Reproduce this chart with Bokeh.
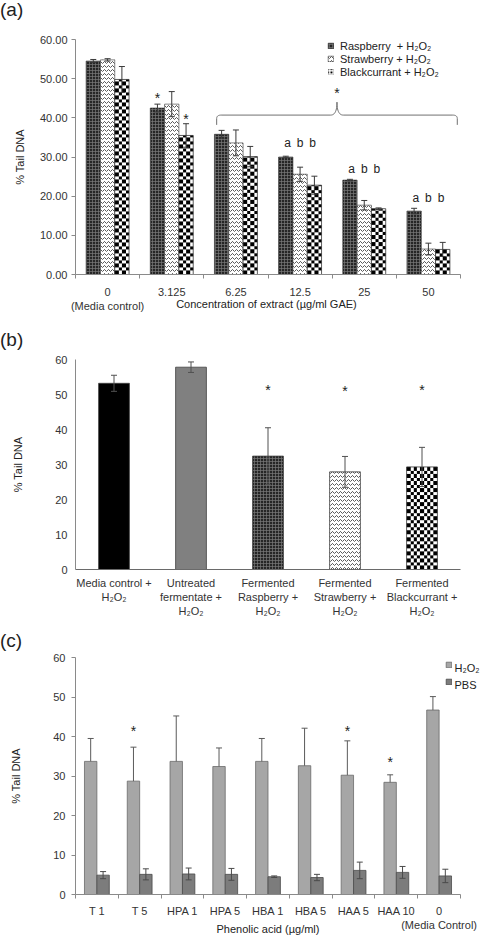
import numpy as np
from bokeh.plotting import figure
from bokeh.layouts import column
from bokeh.models import (Range1d, FixedTicker, NumeralTickFormatter, Whisker, TeeHead,
                          ColumnDataSource, Legend, LegendItem, Div, LinearAxis)
from bokeh.core.properties import value
from bokeh.embed import file_html
from bokeh.resources import INLINE

FONT = "Liberation Sans"
INK = "#222222"
AXIS = "#8a8a8a"
W = 486

# ---------------- (a) berry extracts over a concentration range ----------------
conc_labels = ["0\n(Media control)", "3.125", "6.25", "12.5", "25", "50"]
series_a = ["Raspberry  + H₂O₂", "Strawberry + H₂O₂", "Blackcurrant + H₂O₂"]
raspberry = [54.5, 42.5, 35.8, 30.0, 24.1, 16.2]
raspberry_sd = [0.4, 1.0, 1.0, 0.2, 0.2, 0.7]
strawberry = [54.8, 43.5, 33.6, 25.6, 17.7, 6.5]
strawberry_sd = [0.3, 3.2, 3.3, 1.8, 1.2, 1.5]
blackcurrant = [49.8, 35.5, 30.1, 22.8, 16.8, 6.4]
blackcurrant_sd = [3.3, 3.0, 2.6, 2.3, 0.2, 1.8]
# significance marks: (group, series, height)
stars_a = [(1, 0, 45.0), (1, 2, 39.6)]
letter_groups = [3, 4, 5]
letter_text = ["a", "b", "b"]
letter_height = [33.7, 27.0, 19.5]

# ---------------- (b) fermentates ----------------
ferm_labels = ["Media control +\nH₂O₂", "Untreated\nfermentate +\nH₂O₂",
               "Fermented\nRaspberry +\nH₂O₂", "Fermented\nStrawberry +\nH₂O₂",
               "Fermented\nBlackcurrant +\nH₂O₂"]
ferm_mean = [53.2, 57.8, 32.4, 27.9, 29.3]
ferm_sd = [2.3, 1.5, 8.1, 4.4, 5.6]
ferm_star_height = [None, None, 51.3, 51.0, 51.3]

# ---------------- (c) phenolic acids ----------------
acid_labels = ["T 1", "T 5", "HPA 1", "HPA 5", "HBA 1", "HBA 5", "HAA 5", "HAA 10",
               "0\n(Media Control)"]
treatments = ["H₂O₂", "PBS"]
h2o2_mean = [33.7, 28.7, 33.7, 32.4, 33.7, 32.6, 30.2, 28.4, 46.7]
h2o2_sd = [5.8, 8.6, 11.5, 4.7, 5.8, 9.5, 8.7, 1.9, 3.4]
pbs_mean = [4.9, 5.1, 5.2, 5.1, 4.5, 4.3, 6.1, 5.6, 4.7]
pbs_sd = [0.9, 1.4, 1.5, 1.5, 0.2, 0.8, 2.1, 1.5, 1.7]
acid_star_height = [None, 41.3, None, None, None, None, 41.3, 33.6, None]

# ---------------- fill styles ----------------
RASP = dict(fill_color="#262626", hatch_pattern="cross", hatch_color="#7a7a7a",
            hatch_scale=3, hatch_weight=0.7)
STRAW = dict(fill_color="#ffffff", hatch_pattern="horizontal_wave", hatch_color="#5a5a5a",
             hatch_scale=4, hatch_weight=1)
CHECK_KEY = dict(fill_color="#000000", hatch_pattern="cross", hatch_color="#ffffff",
                 hatch_scale=3.5, hatch_weight=1.5)


def checker_rgba(width_px, height_px, cell=3.5):
    """Black/white checkerboard bitmap sized to a bar in screen pixels."""
    nx = max(1, int(round(width_px)))
    ny = max(1, int(round(height_px)))
    cols, rows = np.meshgrid(np.arange(nx), np.arange(ny))
    on = ((np.floor(cols / cell) + np.floor(rows / cell)) % 2) == 0
    rgba = np.full((ny, nx, 4), 255, dtype=np.uint8)
    rgba[on, :3] = 0
    return rgba.view(np.uint32).reshape(ny, nx)


def checker_bars(p, xs, tops, width, px_x, px_y):
    """Checkerboard-filled bars: bitmap fill plus an outline bar on top."""
    xs = list(xs)
    tops = list(tops)
    for x, t in zip(xs, tops):
        p.image_rgba(image=[checker_rgba(width * px_x, t * px_y)],
                     x=[x - width / 2], y=[0], dw=[width], dh=[t])
    p.vbar(x=xs, top=tops, width=width, bottom=0, fill_color=None,
           line_color="#333333", line_width=0.8)
    # zero-height bar that only supplies the legend swatch
    return p.vbar(x=xs[:1], top=[0], bottom=[0], width=width, line_color="#333333",
                  line_width=0.6, line_alpha=0.0, **CHECK_KEY)


def tag_div(text, height, line_height):
    return Div(text=text, width=W, height=height,
               styles={"font-family": FONT, "font-size": "19px", "color": INK,
                       "line-height": f"{line_height}px", "margin": "0", "padding": "0",
                       "overflow": "visible"})


def make_panel(height, top, frame_h, left, right, n):
    p = figure(width=W, height=height, output_backend="svg", toolbar_location=None,
               x_range=Range1d(-0.5, n - 0.5), y_range=Range1d(0, 60),
               min_border_left=left, min_border_right=right,
               min_border_top=top, min_border_bottom=height - top - frame_h)
    p.outline_line_color = None
    p.grid.visible = False
    p.background_fill_color = "white"
    p.border_fill_color = "white"
    for ax in (p.xaxis[0], p.yaxis[0]):
        ax.axis_line_color = AXIS
        ax.major_label_text_font = FONT
        ax.major_label_text_font_size = "11px"
        ax.major_label_text_color = "#333333"
        ax.major_tick_line_color = AXIS
        ax.minor_tick_line_color = AXIS
        ax.axis_label_text_font = FONT
        ax.axis_label_text_font_size = "11px"
        ax.axis_label_text_font_style = "normal"
        ax.axis_label_text_color = INK
    p.yaxis.ticker = FixedTicker(ticks=[0, 10, 20, 30, 40, 50, 60])
    p.yaxis.major_tick_in = 0
    p.yaxis.major_tick_out = 4
    p.yaxis.major_label_standoff = 4
    p.yaxis.axis_label = "% Tail DNA"
    p.xaxis.major_tick_in = 0
    p.xaxis.major_tick_out = 0
    p.xaxis.minor_tick_in = 0
    p.xaxis.minor_tick_out = 4
    p.xaxis.major_label_standoff = 7
    return p


def whisker(p, xs, mean, sd, color, two_sided=True, size=6):
    src = ColumnDataSource(dict(x=list(xs),
                                upper=[m + s for m, s in zip(mean, sd)],
                                lower=[m - s if two_sided else m for m, s in zip(mean, sd)]))
    w = Whisker(source=src, base="x", upper="upper", lower="lower", level="overlay",
                line_color=color, line_width=1,
                upper_head=TeeHead(size=size, line_color=color, line_width=1),
                lower_head=TeeHead(size=size, line_color=color, line_width=1) if two_sided else None)
    p.add_layout(w)


def stars(p, xs, ys, size="14px"):
    p.text(x=xs, y=ys, text=["*"] * len(xs), text_font=value(FONT), text_font_size=size,
           text_color=INK, text_align="center", text_baseline="middle")


# ======================= panel (a) =======================
idx = np.arange(len(conc_labels))
A_FW, A_FH = 387, 235
pa = make_panel(296, 19, A_FH, 73, 26, len(idx))
pa.yaxis.formatter = NumeralTickFormatter(format="0.00")
pa.yaxis.axis_label_standoff = 11
pa.xaxis.ticker = FixedTicker(ticks=list(idx), minor_ticks=list(np.arange(-0.5, len(idx), 1.0)))
pa.xaxis.major_label_overrides = {int(i): t for i, t in zip(idx, conc_labels)}
pa.xaxis.axis_label = "Concentration of extract  (µg/ml GAE)"
pa.xaxis.axis_label_standoff = -17

bw = 0.223
offs = [-bw, 0.0, bw]
r_rasp = pa.vbar(x=idx + offs[0], top=raspberry, width=bw, bottom=0, line_color="#333333",
                 line_width=0.6, **RASP)
r_straw = pa.vbar(x=idx + offs[1], top=strawberry, width=bw, bottom=0, line_color="#333333",
                  line_width=0.6, **STRAW)
r_black = checker_bars(pa, idx + offs[2], blackcurrant, bw, A_FW / len(idx), A_FH / 60)
whisker(pa, idx + offs[0], raspberry, raspberry_sd, "#3a3a3a")
whisker(pa, idx + offs[1], strawberry, strawberry_sd, "#3a3a3a")
whisker(pa, idx + offs[2], blackcurrant, blackcurrant_sd, "#3a3a3a")

stars(pa, [g + offs[s] for g, s, h in stars_a], [h for g, s, h in stars_a])
lx, ly, lt = [], [], []
for g, h in zip(letter_groups, letter_height):
    for k, t in enumerate(letter_text):
        lx.append(g + offs[k] * 0.88)
        ly.append(h)
        lt.append(t)
pa.text(x=lx, y=ly, text=lt, text_font=value(FONT), text_font_size="12px", text_color=INK,
        text_align="center", text_baseline="middle")


# curly brace over the 6.25 - 50 groups
def qbez(p0, p1, p2, n=14):
    t = np.linspace(0, 1, n)[:, None]
    return (1 - t) ** 2 * np.array(p0) + 2 * (1 - t) * t * np.array(p1) + t ** 2 * np.array(p2)


x0, x1 = 1.70, 5.45
xm = (x0 + x1) / 2
yb, ye, yt = 40.7, 38.2, 44.0
dx, dy = 0.07, 0.9
half = np.vstack([
    [[x0, ye]],
    qbez((x0, yb - dy), (x0, yb), (x0 + dx, yb)),
    qbez((xm - dx * 1.4, yb), (xm, yb), (xm, yt)),
])
mirror = half[::-1].copy()
mirror[:, 0] = 2 * xm - mirror[:, 0]
brace = np.vstack([half, mirror])
pa.line(brace[:, 0], brace[:, 1], line_color="#707070", line_width=1)
stars(pa, [xm], [46.4])

leg_a = Legend(items=[LegendItem(label=s, renderers=[r])
                      for s, r in zip(series_a, [r_rasp, r_straw, r_black])],
               location=(252, 196), orientation="vertical", glyph_width=7, glyph_height=7,
               label_text_font=FONT, label_text_font_size="11px", label_text_color=INK,
               label_standoff=6, label_height=13, spacing=0, padding=0, margin=0,
               border_line_color=None, background_fill_alpha=0)
pa.add_layout(leg_a)

# ======================= panel (b) =======================
idx_b = np.arange(len(ferm_labels))
B_FW, B_FH = 407, 210
pb = make_panel(274, 5, B_FH, 73, 6, len(idx_b))
pb.xaxis.ticker = FixedTicker(ticks=list(idx_b))
pb.xaxis.major_label_overrides = {int(i): t for i, t in zip(idx_b, ferm_labels)}
pb.xaxis.minor_tick_out = 0
pb.yaxis.major_tick_out = 0
pb.yaxis.major_label_standoff = 8
pb.yaxis.axis_label_standoff = 28
pb.xaxis.axis_line_color = "#6a6a6a"

bw_b = 0.4
b_styles = [dict(fill_color="#000000"), dict(fill_color="#808080"), RASP, STRAW]
for i, st in enumerate(b_styles):
    pb.vbar(x=[idx_b[i]], top=[ferm_mean[i]], width=bw_b, bottom=0,
            line_color="#404040", line_width=0.8, **st)
checker_bars(pb, idx_b[4:], ferm_mean[4:], bw_b, B_FW / len(idx_b), B_FH / 60)
whisker(pb, idx_b, ferm_mean, ferm_sd, "#505050")
stars(pb, [i for i, h in zip(idx_b, ferm_star_height) if h is not None],
      [h for h in ferm_star_height if h is not None])

# ======================= panel (c) =======================
idx_c = np.arange(len(acid_labels))
C_FH = 245
pc = make_panel(285, 5, C_FH, 75, 21, len(idx_c))
pc.xaxis.ticker = FixedTicker(ticks=list(idx_c), minor_ticks=list(np.arange(-0.5, len(idx_c), 1.0)))
pc.xaxis.major_label_overrides = {int(i): t for i, t in zip(idx_c, acid_labels)}
pc.yaxis.major_label_standoff = 6
pc.yaxis.axis_label_standoff = 28
pc.xaxis.major_label_standoff = 6
pc.xaxis.axis_label = "Phenolic acid (µg/ml)"
pc.xaxis.axis_label_standoff = -11

bw_c = 0.29
xh = idx_c - bw_c / 2
xp = idx_c + bw_c / 2
rh = pc.vbar(x=xh, top=h2o2_mean, width=bw_c, bottom=0, fill_color="#a6a6a6",
             line_color="#6a6a6a", line_width=0.8)
rp = pc.vbar(x=xp, top=pbs_mean, width=bw_c, bottom=0, fill_color="#7c7c7c",
             line_color="#4a4a4a", line_width=0.8)
whisker(pc, xh, h2o2_mean, h2o2_sd, "#5a5a5a", two_sided=False)
whisker(pc, xp, pbs_mean, pbs_sd, "#4a4a4a")
stars(pc, [x for x, h in zip(xh, acid_star_height) if h is not None],
      [h for h in acid_star_height if h is not None])

# legend swatches sit inside the frame; their names run past its right edge,
# so they are written by a bare axis on the right that carries only those two labels
leg_c = Legend(items=[LegendItem(label=" ", renderers=[rh]), LegendItem(label=" ", renderers=[rp])],
               location=(370, 206), orientation="vertical", glyph_width=7, glyph_height=7,
               label_text_font=FONT, label_text_font_size="11px", label_width=0,
               label_standoff=0, label_height=14, spacing=3, padding=0, margin=0,
               border_line_color=None, background_fill_alpha=0)
pc.add_layout(leg_c)
row_px = 17 / (C_FH / 60)                       # one legend row in data units
key_y = [60 - (668 - 657) / (C_FH / 60), 60 - (668 - 657) / (C_FH / 60) - row_px]
key_axis = LinearAxis(ticker=FixedTicker(ticks=key_y),
                      major_label_overrides={float(y): t for y, t in zip(key_y, treatments)},
                      axis_line_color=None, major_tick_line_color=None, minor_tick_line_color=None,
                      major_tick_in=0, major_tick_out=0, minor_tick_in=0, minor_tick_out=0,
                      major_label_standoff=-6, major_label_text_font=FONT,
                      major_label_text_font_size="11px", major_label_text_color=INK)
pc.add_layout(key_axis, "right")

layout = column(tag_div("(a)", 20, 20), pa,
                tag_div("(b)", 38, 48), pb,
                tag_div("(c)", 24, 26), pc, spacing=0)
open("out.html", "w").write(file_html(layout, INLINE))
